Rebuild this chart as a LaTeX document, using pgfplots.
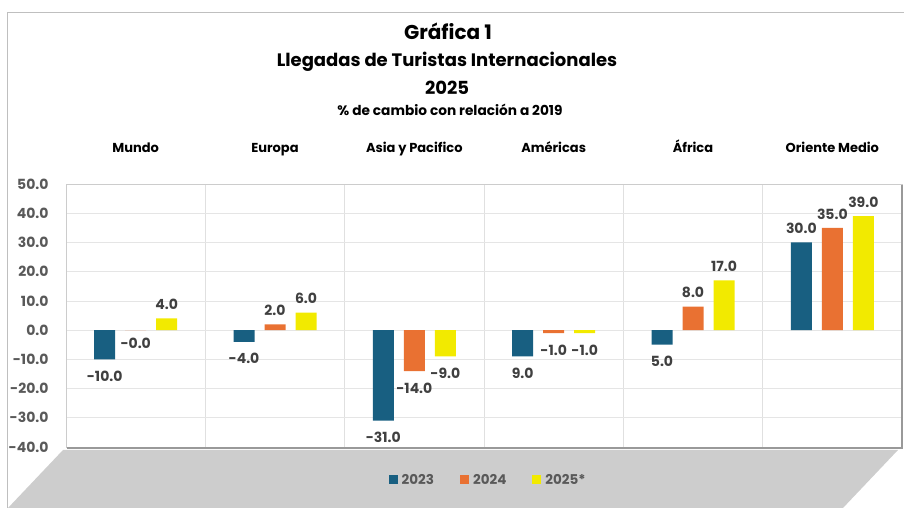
\documentclass[border=0pt]{standalone}
\usepackage{fontspec}
\setmainfont{Poppins}
\usepackage{pgfplots}
\usepackage{pgfplotstable}
\usetikzlibrary{calc}
\pgfplotsset{compat=1.18}
\definecolor{c23}{HTML}{185F81}
\definecolor{c24}{HTML}{E97132}
\definecolor{c25}{HTML}{F2EA00}
\definecolor{labc}{HTML}{404040}
\definecolor{tickc}{HTML}{595959}
\definecolor{floorc}{HTML}{CDCDCD}

\pgfplotstableread{
x y lab dy
0 -10 -10.0 -17
1 -4 -4.0 -17
2 -31 -31.0 -17
3 -9 9.0 -17
4 -5 5.0 -17
5 30 30.0 14
}\tA
\pgfplotstableread{
x y lab dy
0 -0.02 -0.0 -13
1 2 2.0 14
2 -14 -14.0 -17
3 -1 -1.0 -17
4 8 8.0 14
5 35 35.0 14
}\tB
\pgfplotstableread{
x y lab dy
0 4 4.0 14
1 6 6.0 14
2 -9 -9.0 -17
3 -1 -1.0 -17
4 17 17.0 14
5 39 39.0 14
}\tC

\begin{document}
\begin{tikzpicture}
\begin{axis}[
  name=ax, clip=false,
  scale only axis, width=836pt, height=263pt,
  xmin=-0.5, xmax=5.5, ymin=-40, ymax=50,
  ybar=10pt, bar width=21pt,
  xtick={0,1,2,3,4,5},
  xticklabels={Mundo,Europa,Asia y Pacifico,Américas,África,Oriente Medio},
  xticklabel pos=upper,
  x tick label style={font=\bfseries\fontsize{13}{15}\selectfont, anchor=base, yshift=31.5pt, text=black},
  major tick length=0pt, minor tick length=0pt,
  minor xtick={0.5,1.5,2.5,3.5,4.5},
  xminorgrids=true, ymajorgrids=true,
  minor grid style={draw=black!12, line width=0.7pt},
  major grid style={draw=black!10, line width=0.6pt},
  ytick={-40,-30,...,50},
  yticklabel={\pgfmathprintnumber[fixed,fixed zerofill,precision=1,assume math mode=true]{\tick}},
  y tick label style={font=\bfseries\fontsize{14}{16}\selectfont, text=tickc, xshift=-14pt},
  axis line style={draw=black!20, line width=0.8pt},
  point meta=explicit symbolic,
  nodes near coords,
  visualization depends on={\thisrow{dy} \as \dy},
  nodes near coords align={anchor=center},
  every node near coord/.append style={font=\bfseries\fontsize{14}{16}\selectfont, text=labc, inner sep=0pt, yshift=\dy pt},
  legend style={at={(0.505,-0.125)}, anchor=center, draw=none, fill=none, legend columns=-1,
    font=\bfseries\fontsize{13.5}{15}\selectfont, text=tickc,
    /tikz/every even column/.append style={column sep=24pt}},
  legend image code/.code={\fill[#1] (0pt,-4.5pt) rectangle (9pt,4.5pt); \path (11pt,0pt);},
]
\fill[floorc] (rel axis cs:-0.0036,-0.0114) -- (rel axis cs:0.9952,-0.0114) -- (rel axis cs:0.9294,-0.2319) -- (rel axis cs:-0.0694,-0.2319) -- cycle;
\coordinate (LL) at (rel axis cs:0,0);
\addplot[fill=c23, draw=none] table[x=x,y=y,meta=lab] {\tA};
\addplot[fill=c24, draw=none] table[x=x,y=y,meta=lab] {\tB};
\addplot[fill=c25, draw=none] table[x=x,y=y,meta=lab] {\tC};
\legend{2023,2024,2025*}
\end{axis}
\begin{scope}[x=1pt,y=1pt,shift={(LL)},shift={(-66,-61)}]
\draw[black!25, line width=0.8pt] (7,0) -- (7,496) -- (904,496);
\node[font=\bfseries\fontsize{20}{22}\selectfont] at (448,477) {Gráfica 1};
\node[font=\bfseries\fontsize{18}{20}\selectfont] at (447,446) {Llegadas de Turistas Internacionales};
\node[font=\bfseries\fontsize{18}{20}\selectfont] at (447,420) {2025};
\node[font=\bfseries\fontsize{13.7}{16}\selectfont] at (450,398) {\% de cambio con relación a 2019};
\draw[black!40, line width=2pt] (67,60) -- (902,60) -- (902,323);
\end{scope}
\pgfresetboundingbox
\path[use as bounding box] ($(LL)+(-66pt,-61pt)$) rectangle ++(904pt,508pt);
\end{tikzpicture}
\end{document}
